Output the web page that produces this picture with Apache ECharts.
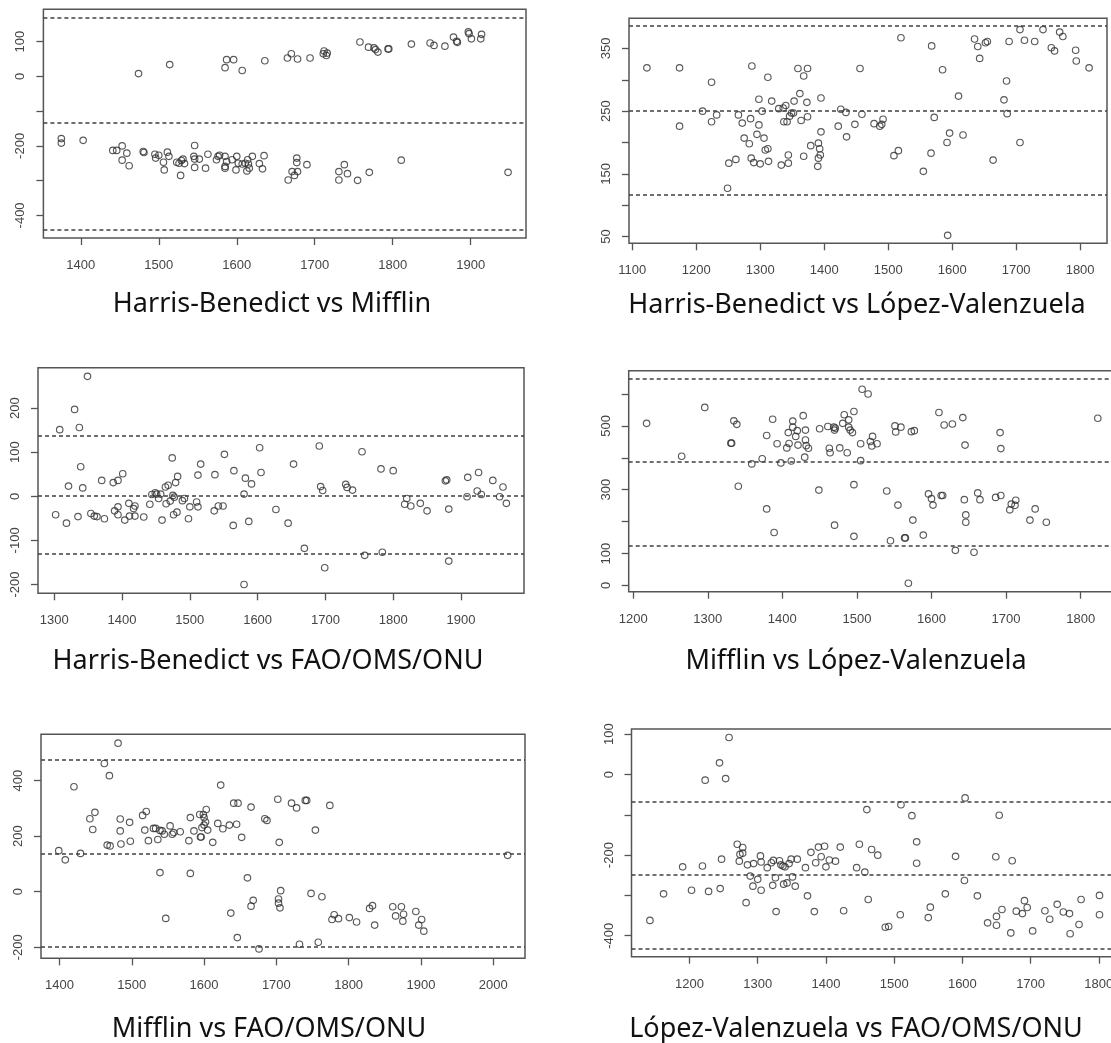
<!DOCTYPE html>
<html><head><meta charset="utf-8">
<script src="https://cdn.jsdelivr.net/npm/echarts@6/dist/echarts.min.js"></script>
<style>html,body{margin:0;padding:0;background:#fff}#c{width:1111px;height:1043px}</style>
</head><body><div id="c"></div>
<script>
// ---------- DATA ----------
const titles = ["Harris-Benedict vs Mifflin","Harris-Benedict vs López-Valenzuela","Harris-Benedict vs FAO/OMS/ONU","Mifflin vs López-Valenzuela","Mifflin vs FAO/OMS/ONU","López-Valenzuela vs FAO/OMS/ONU"];

const hbMifflin = [[1474,8],[1514,34],[1585,25],[1587,48],[1596,48],[1607,17],[1636,45],[1665,53],[1670,65],[1678,50],[1694,53],[1712,73],[1711,65],[1716,67],[1715,60],[1758,99],[1769,84],[1776,82],[1778,77],[1781,70],[1794,79],[1795,79],[1824,93],[1848,96],[1853,89],[1867,87],[1878,113],[1883,98],[1882,101],[1897,128],[1898,123],[1901,108],[1913,108],[1914,121],
[1375,-179],[1375,-192],[1403,-184],[1441,-213],[1446,-213],[1453,-200],[1453,-241],[1459,-221],[1462,-257],[1480,-216],[1481,-219],[1495,-224],[1496,-235],[1500,-227],[1506,-247],[1507,-269],[1511,-218],[1513,-230],[1523,-247],[1526,-250],[1529,-242],[1531,-238],[1533,-251],[1528,-285],[1546,-199],[1545,-230],[1546,-238],[1552,-238],[1546,-262],[1560,-264],[1563,-224],[1574,-240],[1576,-230],[1578,-227],[1585,-230],[1585,-259],[1585,-264],[1587,-245],[1594,-240],[1600,-230],[1599,-269],[1602,-250],[1607,-252],[1611,-250],[1613,-272],[1614,-240],[1616,-264],[1615,-252],[1620,-230],[1629,-251],[1633,-266],[1635,-228],[1666,-298],[1671,-274],[1674,-285],[1677,-235],[1677,-248],[1678,-274],[1690,-254],[1731,-274],[1731,-298],[1738,-254],[1742,-280],[1755,-299],[1770,-276],[1811,-241],[1948,-276]];

const hbLopez = [[1123,319],[1174,319],[1174,226],[1210,250],[1224,296],[1224,233],[1232,244],[1249,127],[1251,167],[1262,173],[1266,244],[1272,231],[1275,207],[1283,198],[1285,238],[1286,175],[1287,322],[1290,168],[1295,213],[1298,228],[1298,269],[1300,166],[1303,250],[1306,207],[1308,188],[1312,304],[1312,190],[1313,170],[1318,266],[1329,254],[1333,164],[1336,255],[1337,233],[1340,259],[1342,233],[1344,167],[1344,180],[1346,242],[1349,247],[1352,247],[1353,266],[1359,318],[1362,278],[1364,235],[1368,306],[1368,178],[1373,264],[1374,318],[1374,241],[1379,195],[1391,199],[1390,162],[1391,175],[1393,190],[1394,180],[1395,271],[1395,217],[1422,226],[1426,253],[1434,248],[1435,209],[1448,229],[1456,318],[1459,245],[1478,230],[1487,226],[1490,229],[1492,237],[1509,179],[1516,187],[1520,367],[1555,154],[1567,183],[1568,354],[1572,240],[1585,316],[1592,200],[1596,215],[1593,52],[1617,212],[1610,274],[1635,365],[1640,353],[1643,334],[1652,359],[1655,361],[1664,172],[1681,268],[1685,298],[1686,246],[1689,361],[1706,380],[1706,200],[1713,363],[1729,361],[1742,380],[1755,351],[1760,346],[1768,376],[1773,369],[1793,347],[1794,330],[1814,319]];

const hbFao = [[1302,-42],[1308,151],[1318,-61],[1321,23],[1330,197],[1335,-46],[1337,156],[1339,67],[1342,19],[1349,272],[1354,-39],[1359,-45],[1363,-46],[1370,36],[1374,-51],[1387,31],[1389,-33],[1394,36],[1394,-24],[1394,-42],[1401,51],[1404,-54],[1410,-16],[1411,-45],[1417,-28],[1419,-22],[1419,-45],[1432,-47],[1441,-18],[1444,4],[1449,8],[1451,5],[1454,-5],[1457,5],[1459,-54],[1464,21],[1465,-17],[1468,25],[1471,-11],[1474,87],[1475,2],[1476,-42],[1477,-2],[1479,31],[1481,-36],[1482,45],[1489,-10],[1492,-5],[1498,-51],[1500,-24],[1510,-13],[1512,48],[1512,-24],[1516,73],[1536,-33],[1537,49],[1542,-22],[1549,-22],[1551,95],[1564,-66],[1565,58],[1580,5],[1582,41],[1580,-200],[1587,-57],[1591,28],[1603,110],[1605,54],[1627,-30],[1645,-61],[1653,73],[1669,-118],[1691,114],[1693,22],[1696,13],[1699,-162],[1730,27],[1732,20],[1740,14],[1754,101],[1758,-134],[1782,62],[1784,-127],[1800,58],[1817,-18],[1820,-5],[1826,-22],[1840,-16],[1850,-33],[1877,35],[1879,37],[1882,-29],[1882,-147],[1909,-1],[1910,43],[1924,12],[1926,54],[1930,4],[1947,36],[1957,-1],[1962,21],[1967,-16]];

const mifflinLopez = [[1218,508],[1265,405],[1296,558],[1332,446],[1331,446],[1335,516],[1339,505],[1341,311],[1359,381],[1373,397],[1379,470],[1379,240],[1387,521],[1389,166],[1393,444],[1398,384],[1406,431],[1408,479],[1409,445],[1412,390],[1414,515],[1414,496],[1418,467],[1420,485],[1421,440],[1428,532],[1430,402],[1431,487],[1431,456],[1432,438],[1435,430],[1450,491],[1449,299],[1461,498],[1463,430],[1464,416],[1469,496],[1470,487],[1471,493],[1470,189],[1477,431],[1481,508],[1483,535],[1487,416],[1489,519],[1489,496],[1491,487],[1494,479],[1496,545],[1496,316],[1496,154],[1505,444],[1505,391],[1507,615],[1515,600],[1518,451],[1521,467],[1520,437],[1527,444],[1540,296],[1545,140],[1551,500],[1552,481],[1555,252],[1559,496],[1564,149],[1565,149],[1569,7],[1573,482],[1577,485],[1575,205],[1589,158],[1596,287],[1600,272],[1602,252],[1610,542],[1613,282],[1615,282],[1617,503],[1628,506],[1632,110],[1642,526],[1644,269],[1645,440],[1646,221],[1646,198],[1657,104],[1662,290],[1665,269],[1686,276],[1692,479],[1693,429],[1693,282],[1705,237],[1707,255],[1712,251],[1713,267],[1732,205],[1739,240],[1754,198],[1823,524]];

const mifflinFao = [[1399,148],[1408,115],[1420,378],[1429,138],[1442,263],[1446,224],[1449,286],[1462,462],[1466,168],[1470,165],[1469,418],[1481,535],[1484,262],[1484,219],[1485,172],[1497,250],[1498,182],[1515,275],[1518,222],[1520,289],[1523,184],[1530,228],[1533,228],[1536,188],[1539,221],[1542,219],[1539,69],[1545,207],[1553,237],[1556,207],[1558,213],[1547,-96],[1567,216],[1579,184],[1581,267],[1581,66],[1586,219],[1594,278],[1595,197],[1596,197],[1597,231],[1599,278],[1600,267],[1600,240],[1602,251],[1603,296],[1605,222],[1612,178],[1619,246],[1623,384],[1626,227],[1635,240],[1637,-77],[1641,319],[1645,243],[1647,319],[1646,-165],[1652,196],[1660,50],[1665,-52],[1665,305],[1668,-31],[1676,-206],[1684,263],[1687,257],[1702,333],[1703,-26],[1703,-41],[1704,178],[1705,-58],[1706,4],[1721,319],[1728,302],[1732,-189],[1740,329],[1742,329],[1748,-6],[1754,222],[1758,-182],[1763,-18],[1774,311],[1777,-100],[1780,-83],[1786,-97],[1801,-93],[1811,-109],[1829,-60],[1833,-50],[1836,-120],[1861,-54],[1865,-87],[1873,-54],[1876,-81],[1875,-106],[1893,-71],[1897,-120],[1901,-100],[1904,-142],[2020,131]];

const lopezFao = [[1142,-362],[1162,-296],[1190,-229],[1203,-287],[1219,-227],[1223,-14],[1228,-290],[1244,29],[1245,-283],[1247,-210],[1253,-10],[1258,92],[1270,-173],[1274,-198],[1273,-215],[1278,-181],[1278,-195],[1283,-318],[1285,-224],[1289,-252],[1293,-277],[1294,-221],[1300,-260],[1304,-202],[1305,-217],[1305,-287],[1314,-231],[1320,-219],[1322,-275],[1323,-213],[1326,-256],[1327,-340],[1332,-214],[1334,-224],[1337,-227],[1338,-272],[1340,-229],[1343,-269],[1346,-221],[1349,-210],[1351,-254],[1355,-277],[1358,-210],[1370,-231],[1373,-301],[1378,-193],[1383,-340],[1385,-219],[1389,-180],[1393,-204],[1398,-178],[1400,-229],[1405,-212],[1414,-215],[1421,-180],[1426,-338],[1445,-231],[1449,-173],[1457,-242],[1460,-87],[1462,-310],[1467,-186],[1476,-200],[1487,-379],[1492,-377],[1509,-348],[1510,-75],[1526,-102],[1533,-167],[1533,-220],[1550,-355],[1553,-329],[1575,-296],[1590,-203],[1603,-263],[1604,-58],[1622,-301],[1637,-368],[1649,-204],[1650,-352],[1650,-374],[1654,-101],[1658,-335],[1673,-214],[1671,-393],[1679,-339],[1688,-345],[1691,-313],[1695,-330],[1703,-388],[1721,-338],[1728,-359],[1739,-322],[1748,-341],[1757,-345],[1758,-395],[1771,-372],[1774,-310],[1801,-300],[1801,-348]];

// limits of agreement (upper, mean, lower)
const hbMifflinLimits = [170, -134, -440];
const hbLopezLimits = [386, 251, 116.5];
const hbFaoLimits = [137, 1.5, -131];
const mifflinLopezLimits = [648, 387, 124];
const mifflinFaoLimits = [476, 137, -199];
const lopezFaoLimits = [-67, -248, -432];

// tick values and tick labels
const xTicks1 = [1400,1500,1600,1700,1800,1900];
const xTicks2 = [1100,1200,1300,1400,1500,1600,1700,1800];
const xTicks3 = [1300,1400,1500,1600,1700,1800,1900];
const xTicks4 = [1200,1300,1400,1500,1600,1700,1800];
const xTicks5 = [1400,1500,1600,1700,1800,1900,2000];
const xTicks6 = [1200,1300,1400,1500,1600,1700,1800];
const yTicks1 = [-400,-300,-200,-100,0,100];   const yLabels1 = [-400,-200,0,100];
const yTicks2 = [50,100,150,200,250,300,350];  const yLabels2 = [50,150,250,350];
const yTicks3 = [-200,-100,0,100,200];         const yLabels3 = [-200,-100,0,100,200];
const yTicks4 = [0,100,200,300,400,500,600];   const yLabels4 = [0,100,300,500];
const yTicks5 = [-200,0,200,400];              const yLabels5 = [-200,0,200,400];
const yTicks6 = [-400,-300,-200,-100,0,100];   const yLabels6 = [-400,-200,0,100];

// ---------- LAYOUT ----------
const panels = [
  {data: hbMifflin, lim: hbMifflinLimits, xt: xTicks1, yt: yTicks1, yl: yLabels1, box:[43.4,9.3,482.6,228.7], xr:[1352,1971], yr:[-465,193], tp:[272,304]},
  {data: hbLopez, lim: hbLopezLimits, xt: xTicks2, yt: yTicks2, yl: yLabels2, box:[629,18.3,478,225], xr:[1095,1842], yr:[39.3,398], tp:[857,305]},
  {data: hbFao, lim: hbFaoLimits, xt: xTicks3, yt: yTicks3, yl: yLabels3, box:[38,367.7,486,225.6], xr:[1276,1993], yr:[-220,291.5], tp:[268,661]},
  {data: mifflinLopez, lim: mifflinLopezLimits, xt: xTicks4, yt: yTicks4, yl: yLabels4, box:[628.7,370.7,487,221], xr:[1194,1847], yr:[-19.5,673], tp:[856,661]},
  {data: mifflinFao, lim: mifflinFaoLimits, xt: xTicks5, yt: yTicks5, yl: yLabels5, box:[41,734.3,484,224], xr:[1374.4,2044], yr:[-239.7,567], tp:[269,1029]},
  {data: lopezFao, lim: lopezFaoLimits, xt: xTicks6, yt: yTicks6, yl: yLabels6, box:[631.5,729,494.6,227.7], xr:[1115,1840], yr:[-452,113], tp:[856,1029]}
];

const axisFont = {fontFamily:'Liberation Sans, Arial, sans-serif', fontSize:13, color:'#454545'};
const plain = v => String(v);
const chart = echarts.init(document.getElementById('c'), null, {renderer:'canvas'});
chart.setOption({
  animation:false,
  backgroundColor:'#fff',
  grid: panels.map(p=>({left:p.box[0], top:p.box[1], width:p.box[2], height:p.box[3], show:true, borderColor:'#555', borderWidth:1.5, backgroundColor:'transparent', containLabel:false, outerBoundsMode:'none'})),
  xAxis: panels.map((p,i)=>({type:'value', gridIndex:i, min:p.xr[0], max:p.xr[1],
    axisLine:{show:false, onZero:false}, splitLine:{show:false},
    axisTick:{show:true, customValues:p.xt, length:7, lineStyle:{color:'#555', width:1.3}},
    axisLabel:Object.assign({customValues:p.xt, margin:21, hideOverlap:false, formatter:plain}, axisFont)})),
  yAxis: panels.map((p,i)=>({type:'value', gridIndex:i, min:p.yr[0], max:p.yr[1],
    axisLine:{show:false, onZero:false}, splitLine:{show:false},
    axisTick:{show:true, customValues:p.yt, length:7, lineStyle:{color:'#555', width:1.3}},
    axisLabel:Object.assign({customValues:p.yl, rotate:90, margin:16, hideOverlap:false, formatter:plain}, axisFont)})),
  series: panels.map((p,i)=>({type:'scatter', xAxisIndex:i, yAxisIndex:i, data:p.data,
    symbol:'circle', symbolSize:6.5, silent:true,
    itemStyle:{color:'rgba(0,0,0,0)', borderColor:'#303030', borderWidth:1.15},
    markLine:{silent:true, symbol:['none','none'], label:{show:false},
      lineStyle:{type:[4,3], color:'#404040', width:1.5},
      data:p.lim.map(v=>({yAxis:v}))}})),
  graphic: panels.map((p,i)=>({type:'text', x:p.tp[0], y:p.tp[1], silent:true,
    style:{text:titles[i], fontFamily:'Noto Sans, sans-serif', fontSize:27, fill:'#111',
      textAlign:'center', textVerticalAlign:'middle', align:'center', verticalAlign:'middle'}}))
});
</script></body></html>
